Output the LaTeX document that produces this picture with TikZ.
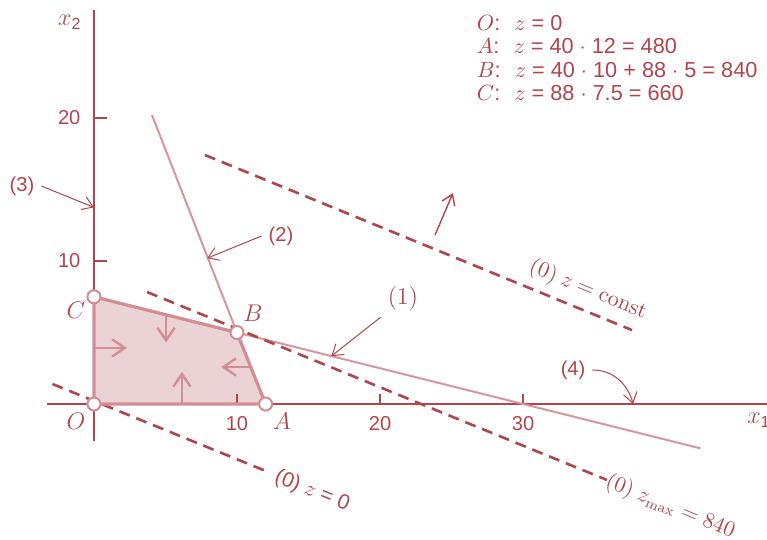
\documentclass[tikz,border=0pt]{standalone}
\usepackage{amsmath}
\usepackage[no-math]{fontspec}
\setmainfont{Liberation Sans}
\usetikzlibrary{arrows.meta}
\definecolor{lpred}{RGB}{176,70,76}
\definecolor{lpline}{RGB}{214,150,154}
\definecolor{lpedge}{RGB}{210,142,148}
\definecolor{lpfill}{RGB}{235,211,213}
\tikzset{
  axisline/.style={draw=lpred, line width=0.6pt},
  conline/.style={draw=lpline, line width=1pt},
  edgeline/.style={draw=lpedge, line width=1.6pt, line join=round},
  objline/.style={draw=lpred, line width=1.3pt, dash pattern=on 5.5pt off 3.5pt},
  inarrow/.style={draw=lpedge, line width=1.2pt, -{Straight Barb[length=2.2mm,width=3mm]}},
  annot/.style={draw=lpred, line width=0.5pt, -{Straight Barb[length=1.8mm,width=2.4mm]}},
  vertex/.style={circle, draw=lpedge, fill=white, line width=1pt, inner sep=0pt, minimum size=6.5pt},
  pointlabel/.style={font=\fontsize{12}{14}\selectfont},
  linelabel/.style={rotate=-22, font=\fontsize{10.5}{12}\selectfont},
}

\begin{document}
\begin{tikzpicture}[x=0.25cm, y=0.25cm, every node/.style={text=lpred}]
\useasboundingbox (-6.57,-9.44) rectangle (47.06,28.25);
% corner points of the feasible set
\coordinate (O) at (0,0);
\coordinate (A) at (12,0);
\coordinate (B) at (10,5);
\coordinate (C) at (0,7.5);
\fill[lpfill] (O) -- (A) -- (B) -- (C) -- cycle;
% axes and ticks
\draw[axisline] (-3.3,0) -- (47.1,0);
\draw[axisline] (0,-2.6) -- (0,27.55);
\foreach \t in {10,20,30} {
  \draw[axisline] (\t,0) -- (\t,0.7);
  \node[anchor=north] (xt\t) at (\t,-0.35) {\t};
}
\foreach \t in {10,20} {
  \draw[axisline] (0,\t) -- (0.9,\t);
  \node[anchor=east] (yt\t) at (-0.45,\t) {\t};
}
\node[pointlabel] (xone) at (46.5,-1.15) {$x_{\text{1}}$};
\node[pointlabel] (xtwo) at (-1.68,26.7) {$x_{\text{2}}$};
% constraint lines (1) and (2)
\coordinate (oneend) at (42.4,-3.1);
\coordinate (twotop) at (4.06,20.2);
\draw[conline] (B) -- (oneend);
\draw[conline] (twotop) -- (B);
% objective lines
\draw[objline] (-2.9,1.4) -- (12.3,-4.8);
\draw[objline] (3.71,7.83) -- (35.87,-5.31);
\draw[objline] (7.76,17.41) -- (37.62,5.17);
\node[linelabel] (zzero) at (15.25,-6.1) {(0) $z$ = 0};
\node[linelabel] (zmax) at (40.3,-7.2) {$(0)\ z_{\max} = 840$};
\node[linelabel] (zconst) at (34.55,7.97) {$(0)\ z = \mathrm{const}$};
% improving direction
\coordinate (upstart) at (23.85,11.82);
\coordinate (uptip) at (25.1,14.75);
\draw[annot, line width=0.7pt] (upstart) -- (uptip);
% feasible set edges
\draw[edgeline] (O) -- (A) -- (B) -- (C) -- cycle;
\coordinate (lefta) at (0,3.92);
\coordinate (leftb) at (2.3,3.92);
\coordinate (bota) at (6.15,0);
\coordinate (botb) at (6.15,2.25);
\coordinate (topa) at (5.04,6.24);
\coordinate (topb) at (5.04,4.3);
\coordinate (righta) at (10.96,2.59);
\coordinate (rightb) at (8.9,2.59);
\draw[inarrow] (lefta) -- (leftb);
\draw[inarrow] (bota) -- (botb);
\draw[inarrow] (topa) -- (topb);
\draw[inarrow] (righta) -- (rightb);
\foreach \v in {O,A,B,C} \node[vertex] (dot\v) at (\v) {};
\node[pointlabel] (labC) at (-1.26,6.57) {$C$};
\node[pointlabel] (labB) at (11.12,6.36) {$B$};
\node[pointlabel] (labO) at (-1.26,-1.19) {$O$};
\node[pointlabel] (labA) at (13.15,-1.19) {$A$};
% constraint labels
\node (three) at (-5.03,15.24) {(3)};
\coordinate (threetip) at (0,13.75);
\draw[annot] (three.east) -- (threetip);
\node (two) at (13.08,11.75) {(2)};
\coordinate (twotip) at (7.92,10.2);
\draw[annot] (two.west) -- (twotip);
\node[pointlabel] (one) at (21.6,7.41) {$(1)$};
\coordinate (onetip) at (16.6,3.35);
\draw[annot] (one.south west) -- (onetip);
\node (four) at (33.5,2.38) {(4)};
\coordinate (fourtip) at (37.7,0);
\draw[annot] (four.east) to[out=0, in=105] (fourtip);
% values at the corners
\node[anchor=north west, align=left, inner sep=0pt, font=\fontsize{10.8}{11.6}\selectfont] (values) at (26.75,27.2)
  {$O$: \ $z$ = 0\\
   $A$: \ $z$ = 40 $\cdot$ 12 = 480\\
   $B$: \ $z$ = 40 $\cdot$ 10 + 88 $\cdot$ 5 = 840\\
   $C$: \ $z$ = 88 $\cdot$ 7.5 = 660};
\end{tikzpicture}
\end{document}
